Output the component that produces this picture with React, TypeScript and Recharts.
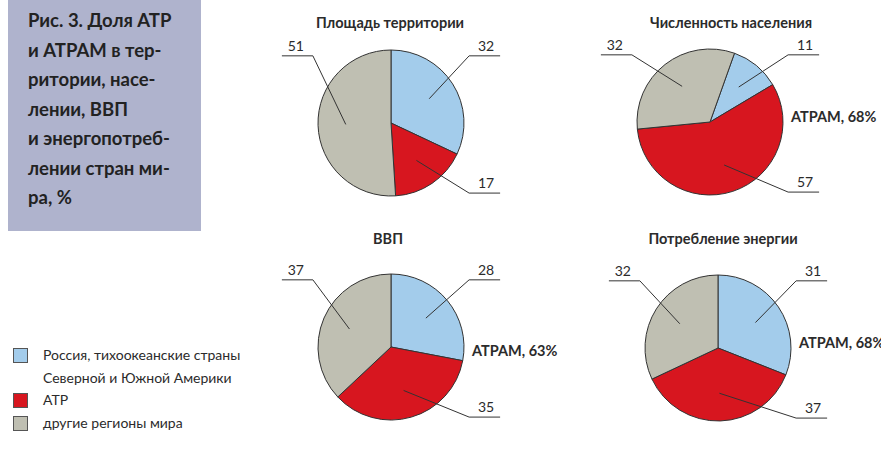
import { PieChart, Pie, Cell } from 'recharts'

const seriesNames = ['Россия, тихоокеанские страны\nСеверной и Южной Америки', 'АТР', 'другие регионы мира']
const chartTitles = ['Площадь территории', 'Численность населения', 'ВВП', 'Потребление энергии']
const territory = [32, 17, 51]
const population = [11, 57, 32]
const gdp = [28, 35, 37]
const energy = [31, 37, 32]
const atramShown = [false, true, true, true]
const headingLines = [
  'Рис. 3. Доля АТР',
  'и АТРАМ в тер-',
  'ритории, насе-',
  'лении, ВВП',
  'и энергопотреб-',
  'лении стран ми-',
  'ра, %',
]

const COLORS = ['#a3cceb', '#d7161f', '#bfbfb2']
const INK = '#2b2b2b'
const FONT = 'Lato, "Open Sans", sans-serif'
const R = 73

const layout = [
  { cx: 391, cy: 123, start: 90, titleX: 390, titleY: 23 },
  { cx: 710, cy: 122, start: 70.4, titleX: 731, titleY: 23 },
  { cx: 391, cy: 347, start: 90, titleX: 388, titleY: 239 },
  { cx: 718, cy: 348, start: 90, titleX: 723, titleY: 239 },
]

const allSeries = [territory, population, gdp, energy]

const RAD = Math.PI / 180

function leaderLabel(props: any) {
  const { cx, cy, midAngle, outerRadius, value, index } = props
  const cos = Math.cos(-midAngle * RAD)
  const sin = Math.sin(-midAngle * RAD)
  const ix = cx + outerRadius * 0.62 * cos
  const iy = cy + outerRadius * 0.62 * sin
  const right = cos >= 0
  const top = !right || sin < 0
  const dir = right ? 1 : -1
  const ex = cx + dir * outerRadius * 1.07
  const ey = top ? cy - outerRadius * 0.92 : cy + outerRadius * 0.96
  const ox = ex + dir * 31
  return (
    <g key={`lbl-${index}`}>
      <polyline points={`${ix},${iy} ${ex},${ey} ${ox},${ey}`} fill="none" stroke="#333" strokeWidth={1} />
      <text
        x={ex + dir * 17}
        y={ey - 5}
        textAnchor="middle"
        fontSize={14}
        fontFamily={FONT}
        fill={INK}
      >
        {value}
      </text>
    </g>
  )
}

export default function App() {
  return (
    <div
      style={{
        position: 'fixed',
        left: 0,
        top: 0,
        width: 881,
        height: 460,
        background: '#fff',
        fontFamily: FONT,
        color: INK,
        overflow: 'hidden',
      }}
    >
      <div
        style={{
          position: 'absolute',
          left: 8,
          top: 0,
          width: 193,
          height: 231,
          background: '#afb3cd',
          boxSizing: 'border-box',
          padding: '6px 0 0 20px',
          fontSize: 18.5,
          fontWeight: 700,
          lineHeight: '29.5px',
          color: '#222',
        }}
      >
        {headingLines.map((l, i) => (
          <div key={i}>{l}</div>
        ))}
      </div>

      <PieChart
        width={881}
        height={460}
        margin={{ top: 0, right: 0, bottom: 0, left: 0 }}
        style={{ position: 'absolute', left: 0, top: 0 }}
      >
        {allSeries.map((vals, k) => (
          <Pie
            key={k}
            data={vals.map((v, i) => ({ name: seriesNames[i], value: v }))}
            dataKey="value"
            cx={layout[k].cx}
            cy={layout[k].cy}
            outerRadius={R}
            startAngle={layout[k].start}
            endAngle={layout[k].start - 360}
            stroke="#333"
            strokeWidth={1}
            label={leaderLabel}
            labelLine={false}
            isAnimationActive={false}
          >
            {vals.map((_, i) => (
              <Cell key={i} fill={COLORS[i]} />
            ))}
          </Pie>
        ))}
      </PieChart>

      {chartTitles.map((t, k) => (
        <div
          key={t}
          style={{
            position: 'absolute',
            left: layout[k].titleX,
            top: layout[k].titleY - 10,
            transform: 'translateX(-50%)',
            whiteSpace: 'nowrap',
            fontSize: 14.5,
            fontWeight: 700,
            lineHeight: '20px',
          }}
        >
          {t}
        </div>
      ))}

      {allSeries.map((vals, k) =>
        atramShown[k] ? (
          <div
            key={`atram-${k}`}
            style={{
              position: 'absolute',
              left: layout[k].cx + 81,
              top: layout[k].cy - (k === 2 ? 6 : 15),
              whiteSpace: 'nowrap',
              fontSize: 14.5,
              fontWeight: 700,
              lineHeight: '20px',
            }}
          >
            {`АТРАМ, ${vals[0] + vals[1]}%`}
          </div>
        ) : null
      )}

      <div style={{ position: 'absolute', left: 13, top: 344, fontSize: 14, lineHeight: '22.5px' }}>
        {seriesNames.map((n, i) => (
          <div key={i} style={{ display: 'flex', alignItems: 'flex-start' }}>
            <span
              style={{
                width: 13,
                height: 13,
                marginTop: 4,
                background: COLORS[i],
                border: '1px solid #555',
                flex: 'none',
              }}
            />
            <span style={{ marginLeft: 15, whiteSpace: 'pre-line' }}>{n}</span>
          </div>
        ))}
      </div>
    </div>
  )
}
